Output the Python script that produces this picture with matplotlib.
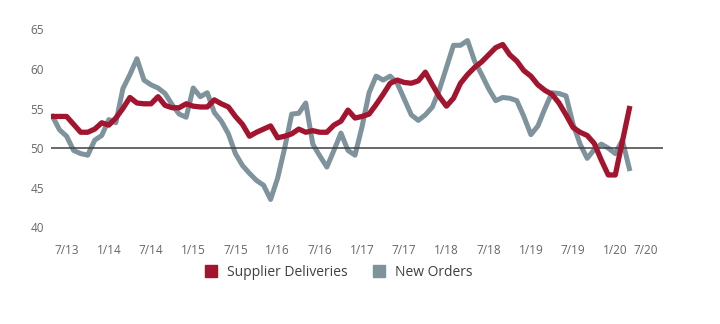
import numpy as np
import matplotlib.pyplot as plt
from matplotlib.lines import Line2D

plt.rcParams['font.family'] = ['Open Sans', 'DejaVu Sans']

# monthly index values, 5/13 .. 3/20
supplier_deliveries = [
    54, 54, 54, 53, 52, 52, 52.4, 53.2, 52.9, 53.8,
    55, 56.4, 55.7, 55.6, 55.6, 56.5, 55.4, 55.1, 55.1, 55.6,
    55.3, 55.2, 55.2, 56.1, 55.6, 55.2, 54, 53, 51.5, 52,
    52.4, 52.8, 51.3, 51.5, 51.8, 52.4, 52, 52.2, 52, 52,
    52.9, 53.4, 54.8, 53.8, 54, 54.3, 55.5, 56.8, 58.2, 58.6,
    58.3, 58.2, 58.5, 59.6, 58, 56.5, 55.3, 56.3, 58.2, 59.3,
    60.2, 60.9, 61.8, 62.7, 63.1, 61.8, 61, 59.8, 59.1, 58,
    57.3, 56.8, 55.7, 54.2, 52.6, 52, 51.6, 50.6, 48.5, 46.6,
    46.6, 50.8, 55,
]
new_orders = [
    54, 52.3, 51.5, 49.7, 49.3, 49.1, 51, 51.6, 53.6, 53.2,
    57.5, 59.3, 61.3, 58.6, 58, 57.6, 56.9, 55.5, 54.3, 53.9,
    57.6, 56.5, 57, 54.5, 53.4, 51.8, 49.3, 47.8, 46.8, 45.9,
    45.3, 43.5, 46.2, 50, 54.3, 54.4, 55.7, 50.5, 49, 47.6,
    49.7, 51.9, 49.7, 49.1, 52.7, 57, 59.1, 58.6, 59.1, 58.2,
    56.2, 54.2, 53.5, 54.2, 55.2, 57.4, 60.2, 63, 63, 63.6,
    61, 59.3, 57.5, 56, 56.4, 56.3, 56, 54, 51.7, 52.8,
    55, 57, 56.9, 56.6, 53, 50.5, 48.7, 49.8, 50.5, 50,
    49.3, 51, 47.4,
]
tick_labels = ['7/13', '1/14', '7/14', '1/15', '7/15', '1/16', '7/16', '1/17',
               '7/17', '1/18', '7/18', '1/19', '7/19', '1/20', '7/20']
tick_pos = [2 + 6 * i for i in range(len(tick_labels))]

red = '#A3142F'
grey = '#7F939D'
txt = '#666666'

fig = plt.figure(figsize=(7.2, 3.24), dpi=100)
ax = fig.add_axes([0.071, 0.299, 0.850, 0.610])

x = np.arange(len(supplier_deliveries))
ax.plot(x, new_orders, color=grey, lw=3.6, solid_joinstyle='round', zorder=2)
ax.axhline(50, color='#404040', lw=1.1, zorder=2.5)
ax.plot(x, supplier_deliveries, color=red, lw=3.8, solid_joinstyle='round', zorder=3)

ax.set_xlim(-0.2, 86.8)
ax.set_ylim(40, 65)
ax.set_yticks([40, 45, 50, 55, 60, 65])
ax.set_xticks(tick_pos)
ax.set_xticklabels(tick_labels)
ax.get_xticklabels()[-1].set_horizontalalignment('right')
ax.tick_params(axis='both', length=0, colors=txt, labelsize=8.5)
ax.tick_params(axis='x', pad=12)
ax.tick_params(axis='y', pad=5)
for s in ax.spines.values():
    s.set_visible(False)

handles = [
    Line2D([], [], marker='s', ls='none', color=red, markersize=8),
    Line2D([], [], marker='s', ls='none', color=grey, markersize=8),
]
fig.legend(handles, ['Supplier Deliveries', 'New Orders'], loc='center',
           bbox_to_anchor=(0.465, 0.16), ncol=2, frameon=False, fontsize=10,
           handletextpad=0.2, columnspacing=1.2, labelcolor='#404040')

fig.savefig('out.png', dpi=100)
